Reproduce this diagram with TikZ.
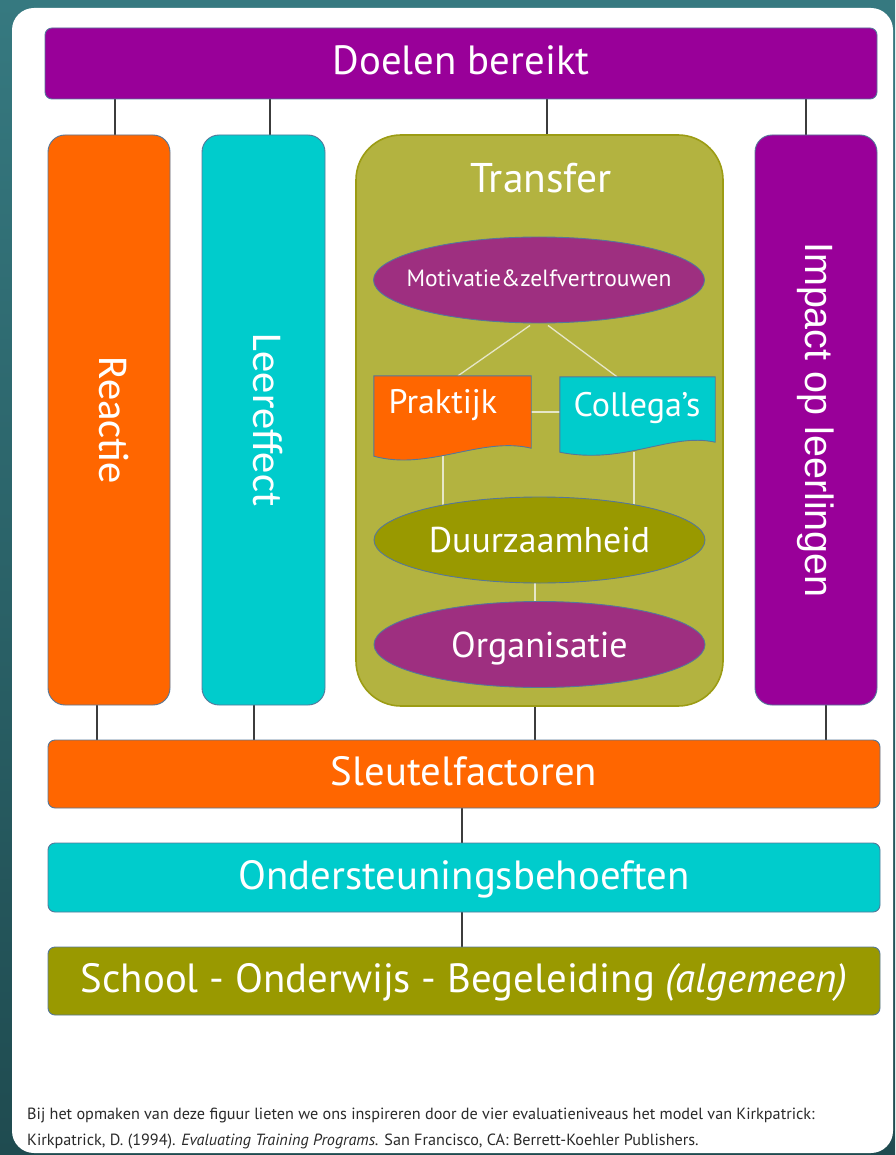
\documentclass[tikz,border=0pt]{standalone}
\usepackage{fontspec}
\setmainfont{PT Sans}
\newfontfamily\impactfont{Liberation Sans}
\newfontfamily\columnfont{Carlito}
\usepackage{graphicx}
\usetikzlibrary{shapes.geometric,calc}

\definecolor{bgtop}{HTML}{367980}
\definecolor{bgbottom}{HTML}{1F4B50}
\definecolor{purp}{HTML}{990099}
\definecolor{orng}{HTML}{FF6600}
\definecolor{cyn}{HTML}{00CCCC}
\definecolor{olv}{HTML}{999900}
\definecolor{tfill}{HTML}{B3B340}
\definecolor{tedge}{HTML}{9C9C14}
\definecolor{plum}{HTML}{9E2F80}
\definecolor{edgeblue}{HTML}{557799}
\definecolor{linkgrey}{HTML}{3C3C3C}
\definecolor{paleline}{HTML}{E6E6C8}
\definecolor{footgrey}{HTML}{2A2A2A}

\pgfdeclarelayer{bg}
\pgfdeclarelayer{mid}
\pgfdeclarelayer{links}
\pgfsetlayers{bg,mid,links,main}

\begin{document}
\begin{tikzpicture}[x=1pt,y=-1pt,
  bar/.style={draw=edgeblue, line width=0.9pt, rounded corners=7pt,
    minimum width=832pt, inner sep=0pt, text=white,
    font=\fontsize{40.8}{46}\selectfont, text height=28pt, text depth=5pt},
  column/.style={draw=edgeblue, line width=0.9pt, rounded corners=17pt,
    minimum width=122pt, minimum height=570pt, inner sep=0pt, text=white,
    font=\columnfont\fontsize{42.5}{48}\selectfont},
  oval/.style={ellipse, draw=edgeblue, line width=0.9pt, minimum width=331pt,
    minimum height=86pt, inner sep=0pt, text=white},
  docarea/.style={inner sep=0pt},
  doc/.style={draw=edgeblue, line width=0.9pt},
  caption/.style={text=white, inner sep=0pt, anchor=base},
  link/.style={draw=linkgrey, line width=1.8pt},
  innerlink/.style={draw=paleline, line width=1.3pt},
  foot/.style={text=footgrey, inner sep=0pt, anchor=base west,
    font=\fontsize{16.2}{19}\selectfont}
]
\useasboundingbox (0,0) rectangle (895,1155);

% backdrop and white sheet
\begin{pgfonlayer}{bg}
  \shade[top color=bgtop, bottom color=bgbottom] (0,0) rectangle (895,1155);
  \fill[white, rounded corners=22pt] (12,8) rectangle (893,1153);
\end{pgfonlayer}

% top bar
\node[bar, fill=purp, minimum height=71pt] (doel) at (461,63.5) {Doelen bereikt};

% four columns
\node[column, fill=orng] (reactie) at (109,420) {\hspace*{10pt}\rotatebox{-90}{Reactie}};
\node[column, fill=cyn, minimum width=123pt] (leer) at (263.5,420) {\hspace*{10pt}\rotatebox{-90}{Leereffect}};
\node[column, fill=purp] (impact) at (816,420)
  {\rotatebox{-90}{\impactfont\fontsize{39.5}{44}\selectfont Impact op leerlingen}};
\begin{pgfonlayer}{mid}
  \node[draw=tedge, line width=1.6pt, fill=tfill, rounded corners=45pt,
    minimum width=367pt, minimum height=571pt, inner sep=0pt] (transfer) at (539.5,420.5) {};
\end{pgfonlayer}
\node[caption, font=\fontsize{41.5}{46}\selectfont] (ttitle) at (541,193) {Transfer};

% inside the transfer block
\node[oval, fill=plum, font=\fontsize{23.5}{28}\selectfont, text height=17pt, text depth=4pt]
  (mot) at (539,280) {\makebox[0pt]{Motivatie\&zelfvertrouwen}};
\node[docarea, minimum width=157pt, minimum height=80pt] (prak) at (452.5,416) {};
\filldraw[doc, fill=orng] (prak.north west) -- (prak.north east)
  -- ($(prak.south east)+(0,-8)$)
  .. controls ($(prak.south east)+(-50,-20)$) and ($(prak.south west)+(55,15)$) .. (prak.south west)
  -- cycle;
\node[caption, font=\fontsize{34}{40}\selectfont] (praktxt) at (443,413) {Praktijk};
\node[docarea, minimum width=155pt, minimum height=75pt] (coll) at (637.5,414.5) {};
\filldraw[doc, fill=cyn] (coll.north west) -- (coll.north east)
  -- ($(coll.south east)+(0,-10)$)
  .. controls ($(coll.south east)+(-45,-20)$) and ($(coll.south west)+(65,13)$) .. (coll.south west)
  -- cycle;
\node[caption, font=\fontsize{34}{40}\selectfont] (colltxt) at (637,416) {Collega’s};
\node[oval, fill=olv, font=\fontsize{35.8}{42}\selectfont, text height=25pt, text depth=0pt]
  (duur) at (539.5,540) {\makebox[0pt]{Duurzaamheid}};
\node[oval, fill=plum, font=\fontsize{36}{42}\selectfont, text height=25pt, text depth=0pt]
  (org) at (539.5,644.5) {\makebox[0pt]{Organisatie}};

% lower bars
\node[bar, fill=orng, minimum height=68pt] (sleutel) at (464,774) {Sleutelfactoren};
\node[bar, fill=cyn, minimum height=69pt] (onder) at (464,877.5) {Ondersteuningsbehoeften};
\node[bar, fill=olv, minimum height=68pt] (school) at (464,981)
  {School - Onderwijs - Begeleiding \textit{(algemeen)}};

% connectors
\begin{pgfonlayer}{links}
  \draw[link] ([xshift=6pt]reactie.north) -- ([xshift=6pt]reactie.north |- doel.south);
  \draw[link] ([xshift=6.5pt]leer.north) -- ([xshift=6.5pt]leer.north |- doel.south);
  \draw[link] ([xshift=7.5pt]transfer.north) -- ([xshift=7.5pt]transfer.north |- doel.south);
  \draw[link] ([xshift=-10pt]impact.north) -- ([xshift=-10pt]impact.north |- doel.south);
  \draw[link] ([xshift=-12pt]reactie.south) -- ([xshift=-12pt]reactie.south |- sleutel.north);
  \draw[link] ([xshift=-9.5pt]leer.south) -- ([xshift=-9.5pt]leer.south |- sleutel.north);
  \draw[link] ([xshift=-4.5pt]transfer.south) -- ([xshift=-4.5pt]transfer.south |- sleutel.north);
  \draw[link] ([xshift=10pt]impact.south) -- ([xshift=10pt]impact.south |- sleutel.north);
  \draw[link] ([xshift=-2pt]sleutel.south) -- ([xshift=-2pt]onder.north);
  \draw[link] ([xshift=-2pt]onder.south) -- ([xshift=-2pt]school.north);

  \draw[innerlink] ([xshift=-9pt,yshift=-2pt]mot.south) -- ([xshift=5.5pt]prak.north);
  \draw[innerlink] ([xshift=9pt,yshift=-2pt]mot.south) -- ([xshift=-20.5pt]coll.north);
  \draw[innerlink] ([yshift=4pt]prak.east) -- ([yshift=4pt]prak.east -| coll.west);
  \draw[innerlink] ([xshift=-9.5pt]prak.south) -- ([xshift=-96.5pt]duur.center);
  \draw[innerlink] ([xshift=-3.5pt]coll.south) -- ([xshift=94.5pt]duur.center);
  \draw[innerlink] ([xshift=-4.5pt]duur.center) -- ([xshift=-4.5pt]org.center);
\end{pgfonlayer}

% reference note
\node[foot] (note1) at (27,1119) {Bij het opmaken van deze figuur lieten we ons inspireren door de vier evaluatieniveaus het model van Kirkpatrick:};
\node[foot] (note2) at (27,1145) {Kirkpatrick, D. (1994). \textit{Evaluating Training Programs.} San Francisco, CA: Berrett-Koehler Publishers.};
\end{tikzpicture}
\end{document}
